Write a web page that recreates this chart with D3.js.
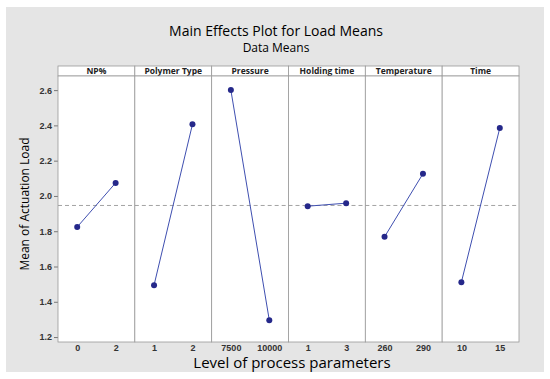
<!DOCTYPE html>
<html>
<head>
<meta charset="utf-8">
<script src="https://cdn.jsdelivr.net/npm/d3@7"></script>
<style>
  body { margin: 0; background: #fff; }
  svg { font-family: "Open Sans", "Noto Sans", sans-serif; }
</style>
</head>
<body>
<svg id="chart" width="550" height="379"></svg>
<script>
// factors and their levels
const factors = ["NP%", "Polymer Type", "Pressure", "Holding time", "Temperature", "Time"];
const levels = [["0", "2"], ["1", "2"], ["7500", "10000"], ["1", "3"], ["260", "290"], ["10", "15"]];
// mean of actuation load at each level
const means = [
    [1.824, 2.074],
    [1.494, 2.406],
    [2.600, 1.296],
    [1.942, 1.959],
    [1.768, 2.126],
    [1.511, 2.385]
];
const grandMean = 1.946;
const yTicks = [1.2, 1.4, 1.6, 1.8, 2.0, 2.2, 2.4, 2.6];

const svg = d3.select("#chart");

// grey backdrop
svg.append("rect")
    .attr("x", 6).attr("y", 7)
    .attr("width", 538).attr("height", 365)
    .attr("fill", "#e5e5e5");

const plotLeft = 58, plotRight = 519, plotTop = 76, plotBottom = 342, headH = 10;

const yScale = d3.scaleLinear().domain([1.172, 2.68]).range([plotBottom, plotTop]);
const panelScale = d3.scaleBand().domain(factors).range([plotLeft, plotRight]);
const pw = panelScale.bandwidth();

// titles
svg.append("text")
    .attr("x", 276).attr("y", 36)
    .attr("text-anchor", "middle")
    .attr("font-size", 14).attr("font-weight", 500)
    .attr("fill", "#000")
    .text("Main Effects Plot for Load Means");
svg.append("text")
    .attr("x", 276).attr("y", 52)
    .attr("text-anchor", "middle")
    .attr("font-size", 12).attr("font-weight", 500)
    .attr("fill", "#000")
    .text("Data Means");

// y axis
const yAxis = d3.axisLeft(yScale).tickValues(yTicks).tickFormat(d3.format(".1f")).tickSize(4).tickPadding(2);
const yg = svg.append("g").attr("transform", `translate(${plotLeft},0)`).call(yAxis);
yg.select(".domain").remove();
yg.selectAll(".tick line").attr("stroke", "#777");
yg.selectAll(".tick text").attr("font-size", 9).attr("font-weight", 600).attr("fill", "#333");

svg.append("text")
    .attr("transform", "translate(29,204) rotate(-90)")
    .attr("text-anchor", "middle")
    .attr("font-size", 12).attr("font-weight", 500)
    .attr("fill", "#000")
    .text("Mean of Actuation Load");

// panels
factors.forEach((f, i) => {
    const x0 = panelScale(f);
    const g = svg.append("g").attr("transform", `translate(${x0},0)`);
    const xScale = d3.scalePoint().domain(levels[i]).range([0, pw]).padding(0.5);

    g.append("rect")
        .attr("x", 0).attr("y", plotTop - headH)
        .attr("width", pw).attr("height", headH)
        .attr("fill", "#fff").attr("stroke", "#999").attr("stroke-width", 0.8);
    g.append("text")
        .attr("x", pw / 2).attr("y", plotTop - 2)
        .attr("text-anchor", "middle")
        .attr("font-size", 8.5).attr("font-weight", 700)
        .attr("fill", "#222")
        .text(f);

    g.append("rect")
        .attr("x", 0).attr("y", plotTop)
        .attr("width", pw).attr("height", plotBottom - plotTop)
        .attr("fill", "#fff").attr("stroke", "#999").attr("stroke-width", 0.8);

    // reference line at grand mean
    g.append("line")
        .attr("x1", 0).attr("x2", pw)
        .attr("y1", yScale(grandMean)).attr("y2", yScale(grandMean))
        .attr("stroke", "#999").attr("stroke-dasharray", "4,3").attr("stroke-width", 0.9);

    const pts = levels[i].map((l, j) => [l, means[i][j]]);
    g.append("path")
        .datum(pts)
        .attr("fill", "none")
        .attr("stroke", "#3f4fb0")
        .attr("stroke-width", 1)
        .attr("d", d3.line().x(d => xScale(d[0])).y(d => yScale(d[1])));
    g.selectAll("circle").data(pts).join("circle")
        .attr("cx", d => xScale(d[0]))
        .attr("cy", d => yScale(d[1]))
        .attr("r", 3)
        .attr("fill", "#25288a");

    const xAxis = d3.axisBottom(xScale).tickSize(0).tickPadding(3);
    const xg = g.append("g").attr("transform", `translate(0,${plotBottom})`).call(xAxis);
    xg.select(".domain").remove();
    xg.selectAll(".tick text").attr("font-size", 9).attr("font-weight", 600).attr("fill", "#333");
});

svg.append("text")
    .attr("x", 292).attr("y", 368)
    .attr("text-anchor", "middle")
    .attr("font-size", 15)
    .attr("fill", "#000")
    .text("Level of process parameters");
</script>
</body>
</html>
